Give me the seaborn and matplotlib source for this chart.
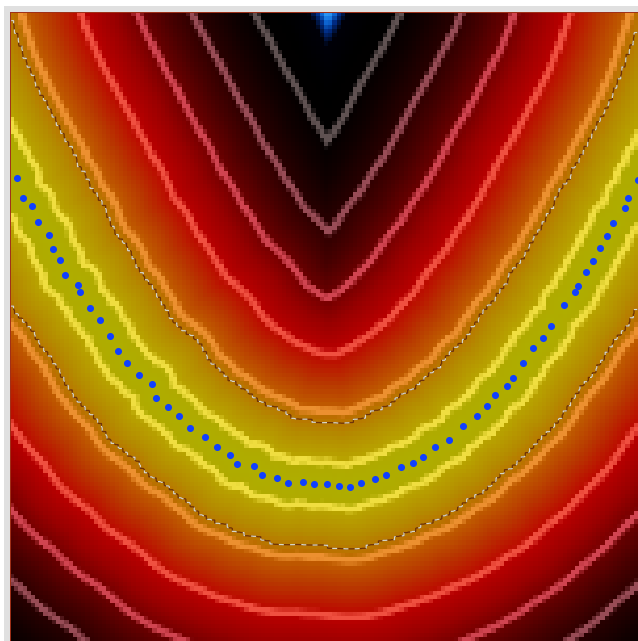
import numpy as np
import matplotlib
matplotlib.use('Agg')
import matplotlib.pyplot as plt
from matplotlib.colors import LinearSegmentedColormap
import seaborn as sns

# Blue sample points (pixel positions)
dots_x = [17, 23, 32, 38, 49, 53, 60, 65, 78, 80, 90, 100, 110, 118, 127, 139, 152, 156, 168, 179,
          190, 205, 217, 230, 237, 254, 262, 277, 288, 303, 314, 327, 339, 350, 361, 375, 386, 401,
          413, 423, 435, 449, 463, 477, 487, 495, 507, 513, 523, 533, 543, 551, 564, 575, 578, 586,
          593, 600, 607, 613, 625, 628, 638]
dots_y = [178, 198, 206, 222, 235, 249, 260, 275, 285, 292, 308, 320, 336, 351, 363, 375, 384, 398, 407, 416,
          428, 437, 447, 455, 464, 466, 475, 478, 483, 482, 484, 484, 486, 487, 483, 479, 475, 467,
          463, 457, 447, 440, 426, 416, 406, 395, 386, 378, 363, 348, 338, 326, 305, 292, 286, 272,
          261, 248, 236, 223, 208, 198, 180]

# Where the curve must carry on outside the window, judged from the contours at the top
hidden_left_x = [8, 0, -8, -16, -23, -30, -36, -41, -46, -50, -54, -58, -62]
hidden_left_y = [163, 148, 133, 118, 103, 88, 73, 58, 43, 28, 13, -2, -17]
hidden_right_x = [647, 655, 663, 670, 676, 682, 687, 692, 697, 701, 705, 709, 713]
hidden_right_y = [163, 148, 133, 118, 103, 88, 73, 58, 43, 28, 13, -2, -17]

# Distance from the curve at each light contour, and where the speckled line sits
contour_levels = [22, 73, 130, 183, 233, 288]
speckle_level = 62
max_level = 352

# Window of the field in the picture
W, H = 638, 641
left, top = 10, 12
n_cols, n_rows = 150, 150
cell_w = (W - left) / n_cols
cell_h = (H - top) / n_rows

# Field is the distance of each cell to the nearest sample point
px = np.array(dots_x + hidden_left_x + hidden_right_x, dtype=float)
py = np.array(dots_y + hidden_left_y + hidden_right_y, dtype=float)
cx = left + (np.arange(n_cols) + 0.5) * cell_w
cy = top + (np.arange(n_rows) + 0.5) * cell_h
gx, gy = np.meshgrid(cx, cy)
field = np.sqrt((gx[..., None] - px) ** 2 + (gy[..., None] - py) ** 2).min(axis=2)

# Base ramp with a light ridge at every contour level
ramp = [(0, '#aeae00'), (18, '#b0aa00'), (26, '#b8a400'), (50, '#b48a00'), (62, '#b87800'),
        (75, '#c06000'), (100, '#b83800'), (126, '#bb0a00'), (134, '#b80000'), (160, '#980000'),
        (183, '#700000'), (210, '#480000'), (233, '#2c0000'), (265, '#100000'), (288, '#020000'),
        (310, '#000000'), (335, '#000008'), (342, '#002a80'), (347, '#1070e0'), (352, '#40b0ff')]
ridge_colors = ['#f0de40', '#ec9030', '#f05040', '#d04450', '#984c56', '#605252']
stops = dict(ramp)
base_v = [v for v, c in ramp]
base_rgb = np.array([matplotlib.colors.to_rgb(c) for v, c in ramp])
for lev, col in zip(contour_levels, ridge_colors):
    under = [np.interp(lev - 5, base_v, base_rgb[:, i]) for i in range(3)]
    over = [np.interp(lev + 5, base_v, base_rgb[:, i]) for i in range(3)]
    # drop any ramp stop sitting inside the ridge
    for v in list(stops):
        if lev - 5 < v < lev + 5:
            del stops[v]
    stops[lev - 5] = tuple(under)
    stops[lev - 2] = col
    stops[lev + 2] = col
    stops[lev + 5] = tuple(over)
cmap = LinearSegmentedColormap.from_list('field', [(v / max_level, stops[v]) for v in sorted(stops)], N=2048)

fig = plt.figure(figsize=(W / 100, H / 100), dpi=100, facecolor='white')
# grey frame behind the field
bg = fig.add_axes([4 / W, 0, (W - 4) / W, (H - 6) / H], facecolor='#e0e0e0')
bg.set_xticks([])
bg.set_yticks([])
for s in bg.spines.values():
    s.set_visible(False)

ax = fig.add_axes([left / W, 0, (W - left) / W, (H - top) / H])
sns.heatmap(field, cmap=cmap, vmin=0, vmax=max_level, cbar=False,
            xticklabels=False, yticklabels=False, ax=ax)

# Speckled thin line: contour the blocky field so it stair-steps like the cells,
# two dashed strokes so it flickers light and dark
blocky = np.repeat(np.repeat(field, 3, axis=0), 3, axis=1)
xs = (np.arange(n_cols * 3) + 0.5) / 3
ys = (np.arange(n_rows * 3) + 0.5) / 3
ax.contour(xs, ys, blocky, levels=[speckle_level], colors='#6e3208', linewidths=0.9)
ax.contour(xs, ys, blocky, levels=[speckle_level], colors='#d8d8c8', linewidths=0.9,
           linestyles=[(0, (4, 5))])

dots_cx = (np.array(dots_x) - left) / cell_w
dots_cy = (np.array(dots_y) - top) / cell_h
sns.scatterplot(x=dots_cx, y=dots_cy, color='#1040ff', s=26, linewidth=0, ax=ax, zorder=5)
ax.set_xlabel('')
ax.set_ylabel('')

ax.spines['left'].set_visible(True)
ax.spines['top'].set_visible(True)
ax.spines['left'].set_color('#a03018')
ax.spines['top'].set_color('#a03018')
ax.spines['left'].set_linewidth(0.7)
ax.spines['top'].set_linewidth(0.7)

fig.savefig('out.png', dpi=100)
